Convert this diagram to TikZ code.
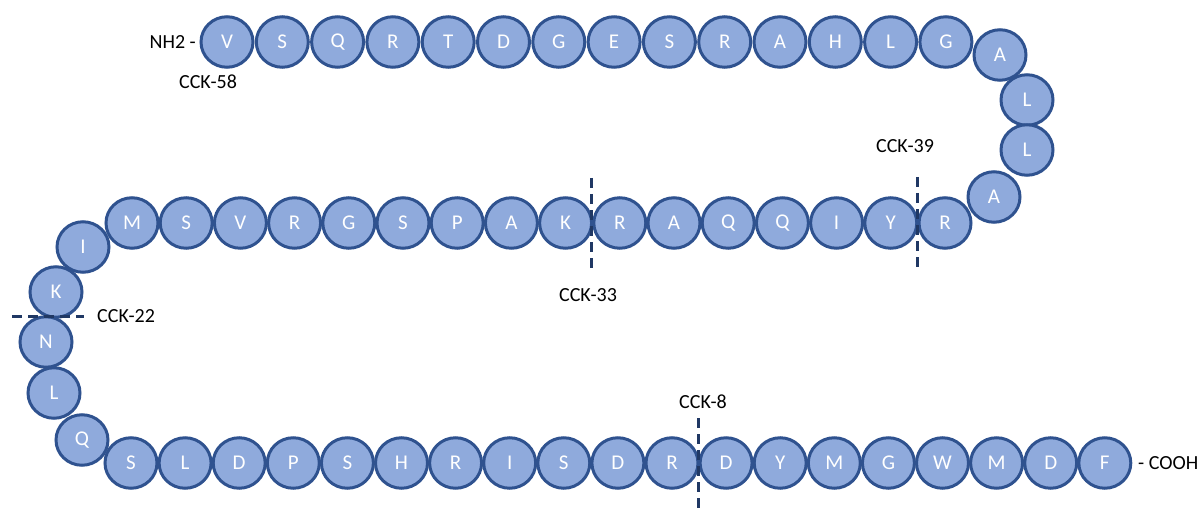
\documentclass[tikz,border=0pt]{standalone}
\usepackage{fontspec}
\setmainfont{Carlito}
\usetikzlibrary{shapes.geometric}
\definecolor{beadfill}{HTML}{8FAADC}
\definecolor{beadline}{HTML}{2F528F}
\definecolor{cutline}{HTML}{203864}
\tikzset{
  bead/.style={ellipse, draw=beadline, fill=beadfill, line width=3pt,
    minimum width=52pt, minimum height=50.5pt, inner sep=0pt,
    text=white, font=\fontsize{21}{24}\selectfont},
  cut/.style={draw=cutline, line width=3pt, dash pattern=on 10pt off 6pt},
  lbl/.style={font=\fontsize{20}{24}\selectfont, inner sep=0pt}
}
\begin{document}
\begin{tikzpicture}[x=1pt, y=-1pt]
\useasboundingbox (0,0) rectangle (1200,508);
% riga alta
\foreach \aa [count=\i] in {V,S,Q,R,T,D,G,E,S,R,A,H,L,G}
  \node[bead] (t\i) at ({227+(\i-1)*55.3}, 42) {\aa};
% curva destra
\node[bead] (r1) at (1000, 55) {A};
\node[bead] (r2) at (1027, 100) {L};
\node[bead] (r3) at (1027, 150) {L};
\node[bead] (r4) at (994, 197) {A};
% riga centrale
\foreach \aa [count=\i] in {M,S,V,R,G,S,P,A,K,R,A,Q,Q,I,Y,R}
  \node[bead] (m\i) at ({132+(\i-1)*54.2}, 223) {\aa};
% curva sinistra
\node[bead] (l1) at (83, 247) {I};
\node[bead] (l2) at (56, 292) {K};
\node[bead] (l3) at (46, 342) {N};
\node[bead] (l4) at (54, 393) {L};
\node[bead] (l5) at (82, 440) {Q};
% riga bassa
\foreach \aa [count=\i] in {S,L,D,P,S,H,R,I,S,D,R,D,Y,M,G,W,M,D,F}
  \node[bead] (b\i) at ({131+(\i-1)*54.1}, 463) {\aa};
% estremi
\node[lbl, anchor=east] (nterm) at (196, 42) {NH2 -};
\node[lbl, anchor=west] (cterm) at (1138, 463) {- COOH};
% tagli
\coordinate (c39a) at (917, 177);
\coordinate (c39b) at (917, 272);
\draw[cut] (c39a) -- (c39b);
\node[lbl] (k39) at (905, 146) {CCK-39};
\coordinate (c33a) at (591, 178);
\coordinate (c33b) at (591, 268);
\draw[cut] (c33a) -- (c33b);
\node[lbl] (k33) at (588, 295) {CCK-33};
\coordinate (c22a) at (12, 316);
\coordinate (c22b) at (84, 316);
\draw[cut] (c22a) -- (c22b);
\node[lbl, anchor=west] (k22) at (97, 316) {CCK-22};
\coordinate (c8a) at (698, 418);
\coordinate (c8b) at (698, 508);
\draw[cut] (c8a) -- (c8b);
\node[lbl] (k8) at (703, 402) {CCK-8};
\node[lbl] (k58) at (208, 82) {CCK-58};
\end{tikzpicture}
\end{document}
